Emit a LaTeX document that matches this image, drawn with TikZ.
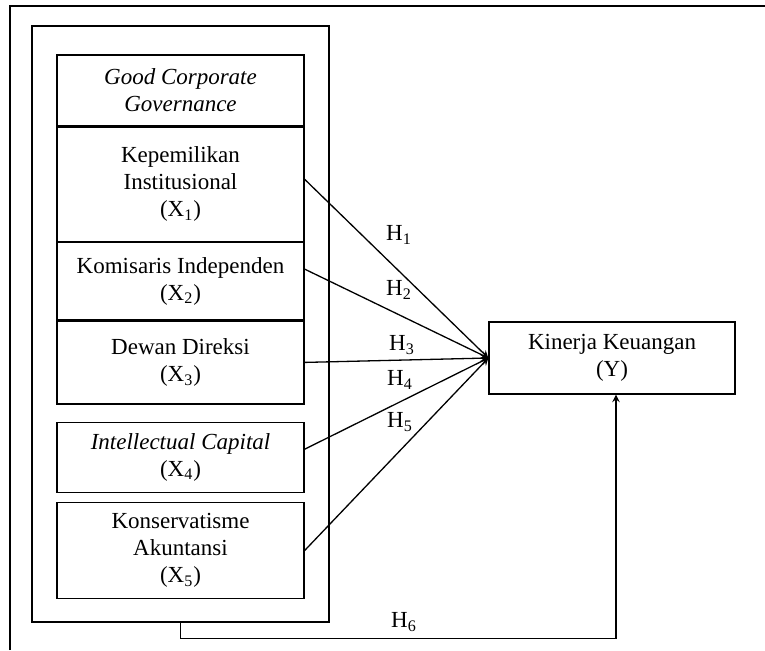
\documentclass[tikz,border=0pt]{standalone}
\usepackage{fontspec}
\setmainfont{Liberation Serif}
\usetikzlibrary{shapes,arrows,positioning}
\tikzstyle{box} = [rectangle, minimum width=123.5pt, inner sep=0pt, align=center, draw=black, line width=0.65pt, font=\fontsize{11.5}{13.5}\selectfont]
\tikzstyle{hyp} = [font=\fontsize{11.5}{13}\selectfont]
\tikzstyle{arrow} = [line width=0.65pt,->,>=stealth]

\begin{document}
\begin{tikzpicture}[x=0.5pt,y=-0.5pt]
        \useasboundingbox (0,0) rectangle (765,650);
        \draw [line width=0.8pt] (10,650) -- (10,6) -- (765,6);
        \node (grp) [rectangle, draw=black, line width=0.65pt, minimum width=148.5pt, minimum height=298pt] at (180.5,324) {};
        \node (gcg) [box, minimum height=35.5pt] at (180.5,90.5) {\textit{Good Corporate}\\\textit{Governance}};
        \node (x1) [box, below=0pt of gcg, minimum height=57pt] {Kepemilikan\\Institusional\\(X\textsubscript{1})};
        \node (x2) [box, below=0pt of x1, minimum height=38.5pt] {Komisaris Independen\\(X\textsubscript{2})};
        \node (x3) [box, below=0pt of x2, minimum height=41.5pt] {Dewan Direksi\\(X\textsubscript{3})};
        \node (x4) [box, below=8.5pt of x3, minimum height=35pt] {\textit{Intellectual Capital}\\(X\textsubscript{4})};
        \node (x5) [box, below=4.5pt of x4, minimum height=48pt] {Konservatisme\\Akuntansi\\(X\textsubscript{5})};
        \node (y) [box, minimum width=123pt, minimum height=36pt] at (612,358) {Kinerja Keuangan\\(Y)};
        \draw [arrow] ([yshift=2.5pt]x1.east) -- (y.west);
        \draw [arrow] ([yshift=6pt]x2.east) -- (y.west);
        \draw [arrow] (x3.east) -- (y.west);
        \draw [arrow] ([yshift=4pt]x4.east) -- (y.west);
        \draw [arrow] (x5.east) -- (y.west);
        \draw [arrow] (grp.south) -- ++(0,16) -| ([xshift=2pt]y.south);
        \node (h1) [hyp] at (399,235) {H\textsubscript{1}};
        \node (h2) [hyp] at (399,290) {H\textsubscript{2}};
        \node (h3) [hyp] at (402,345) {H\textsubscript{3}};
        \node (h4) [hyp] at (400,380) {H\textsubscript{4}};
        \node (h5) [hyp] at (400,422) {H\textsubscript{5}};
        \node (h6) [hyp] at (404,622) {H\textsubscript{6}};
\end{tikzpicture}
\end{document}
